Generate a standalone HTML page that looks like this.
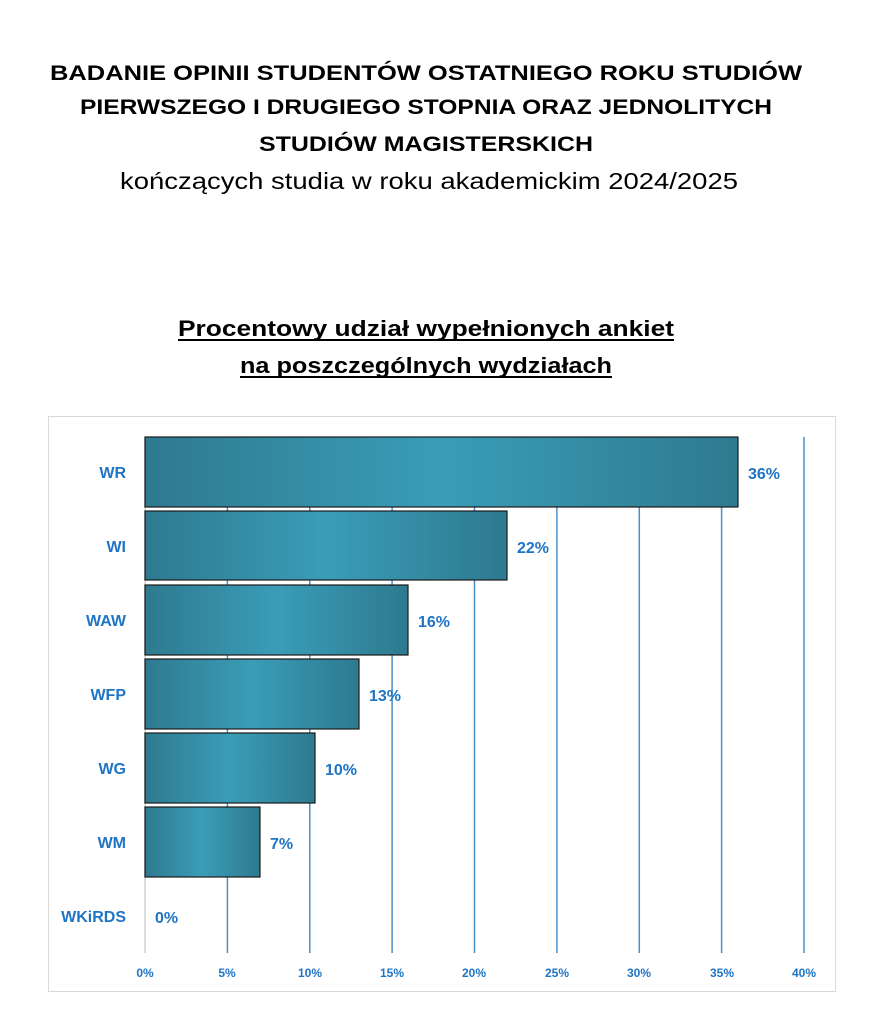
<!DOCTYPE html>
<html><head><meta charset="utf-8"><style>body{margin:0;background:#fff}svg{display:block}</style></head><body>
<svg width="873" height="1032" xmlns="http://www.w3.org/2000/svg" font-family="'Liberation Sans', sans-serif">
<defs>
<linearGradient id="g" x1="0" x2="1" y1="0" y2="0">
<stop offset="0" stop-color="#2e7a8f"/><stop offset="0.5" stop-color="#3a9db8"/><stop offset="1" stop-color="#2e7a8f"/>
</linearGradient>
</defs>
<g font-weight="bold" font-size="21" text-anchor="middle" fill="#000">
<text x="426" y="80" textLength="752" lengthAdjust="spacingAndGlyphs">BADANIE OPINII STUDENTÓW OSTATNIEGO ROKU STUDIÓW</text>
<text x="426" y="114" textLength="692" lengthAdjust="spacingAndGlyphs">PIERWSZEGO I DRUGIEGO STOPNIA ORAZ JEDNOLITYCH</text>
<text x="426" y="151" textLength="334" lengthAdjust="spacingAndGlyphs">STUDIÓW MAGISTERSKICH</text>
</g>
<text x="429" y="189" font-size="23" text-anchor="middle" textLength="618" lengthAdjust="spacingAndGlyphs">kończących studia w roku akademickim 2024/2025</text>
<g font-weight="bold" font-size="22" text-anchor="middle">
<text x="426" y="336" textLength="496" lengthAdjust="spacingAndGlyphs">Procentowy udział wypełnionych ankiet</text>
<text x="426" y="373" textLength="372" lengthAdjust="spacingAndGlyphs">na poszczególnych wydziałach</text>
</g>
<rect x="178" y="339" width="496" height="2" fill="#000"/>
<rect x="240" y="376" width="372" height="2" fill="#000"/>
<rect x="48.5" y="416.5" width="787" height="575" fill="#fff" stroke="#d9d9d9"/>
<line x1="145" y1="437" x2="145" y2="953" stroke="#d0d0d0" stroke-width="1.5"/>
<g stroke="#4a90c8" stroke-width="1.5">
<line x1="227.4" y1="437" x2="227.4" y2="953"/><line x1="309.8" y1="437" x2="309.8" y2="953"/>
<line x1="392.1" y1="437" x2="392.1" y2="953"/><line x1="474.5" y1="437" x2="474.5" y2="953"/>
<line x1="556.9" y1="437" x2="556.9" y2="953"/><line x1="639.3" y1="437" x2="639.3" y2="953"/>
<line x1="721.6" y1="437" x2="721.6" y2="953"/><line x1="804" y1="437" x2="804" y2="953"/>
</g>
<g fill="url(#g)" stroke="#1a1a1a" stroke-width="1.2">
<rect x="145" y="437" width="593" height="70"/>
<rect x="145" y="511" width="362" height="69"/>
<rect x="145" y="585" width="263" height="70"/>
<rect x="145" y="659" width="214" height="70"/>
<rect x="145" y="733" width="170" height="70"/>
<rect x="145" y="807" width="115" height="70"/>
</g>
<g fill="#1f74c4" font-weight="bold" font-size="16" text-anchor="end">
<text x="126" y="478">WR</text><text x="126" y="552">WI</text><text x="126" y="626">WAW</text>
<text x="126" y="700">WFP</text><text x="126" y="774">WG</text><text x="126" y="848">WM</text>
<text x="126" y="922">WKiRDS</text>
</g>
<g fill="#1f74c4" font-weight="bold" font-size="16">
<text x="748" y="479">36%</text><text x="517" y="553">22%</text><text x="418" y="627">16%</text>
<text x="369" y="701">13%</text><text x="325" y="775">10%</text><text x="270" y="849">7%</text>
<text x="155" y="923">0%</text>
</g>
<g fill="#1f74c4" font-weight="bold" font-size="12" text-anchor="middle">
<text x="145" y="977">0%</text><text x="227" y="977">5%</text><text x="310" y="977">10%</text>
<text x="392" y="977">15%</text><text x="474" y="977">20%</text><text x="557" y="977">25%</text>
<text x="639" y="977">30%</text><text x="722" y="977">35%</text><text x="804" y="977">40%</text>
</g>
</svg>
</body></html>
